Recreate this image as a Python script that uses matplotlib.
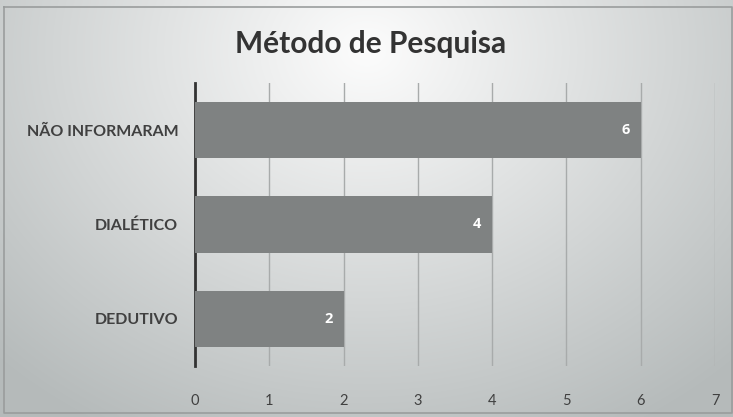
import matplotlib
matplotlib.use("Agg")
import matplotlib.pyplot as plt
import numpy as np

categories = ["DEDUTIVO", "DIALÉTICO", "NÃO INFORMARAM"]
values = [2, 4, 6]
xticks = [0, 1, 2, 3, 4, 5, 6, 7]
title = "Método de Pesquisa"

plt.rcParams['font.family'] = ['Lato', 'DejaVu Sans']

W, H = 733, 417
fig = plt.figure(figsize=(W/100, H/100), dpi=100)

# gradient background
bg = fig.add_axes([0, 0, 1, 1], zorder=-10)
yy, xx = np.mgrid[0:H, 0:W]
cx, cy = 0.5 * W, 0.12 * H
d = np.sqrt(((xx - cx) / (0.72 * W))**2 + ((yy - cy) / (1.05 * H))**2)
d = np.clip(d, 0, 1)
light = np.array([0.99, 0.99, 0.99])
dark = np.array([0.71, 0.73, 0.73])
img = light[None, None, :] * (1 - d[..., None]) + dark[None, None, :] * d[..., None]
bg.imshow(img, extent=[0, W, H, 0], aspect='auto')
bg.set_xlim(0, W); bg.set_ylim(H, 0)
bg.axis('off')
bg.plot([4, W-1, W-1, 4, 4], [7, 7, H-4, H-4, 7], color='#9a9d9d', lw=1.2)

ax = fig.add_axes([195/W, 1 - 366/H, (715-195)/W, (366-83)/H])
ax.patch.set_alpha(0)
y = np.arange(len(categories))
ax.barh(y, values, height=0.6, color='#7f8282', zorder=3)
for yi, v in zip(y, values):
    ax.text(v - 0.2, yi, str(v), ha='center', va='center', color='white',
            fontsize=10.5, fontweight='bold', family=['Open Sans', 'DejaVu Sans'],
            zorder=4)
ax.set_xlim(0, 7)
ax.set_ylim(-0.5, 2.5)
ax.set_xticks(xticks)
ax.set_xticklabels([str(t) for t in xticks])
ax.set_yticks(y)
ax.set_yticklabels(categories, fontsize=11.5, fontweight='bold', color='#404040')
ax.grid(axis='x', color='#a8abab', lw=1, zorder=0)
for s in ['top', 'right', 'bottom']:
    ax.spines[s].set_visible(False)
ax.spines['left'].set_color('#333333')
ax.spines['left'].set_linewidth(2)
ax.tick_params(axis='y', length=0, pad=12)
ax.tick_params(axis='x', length=0, pad=20, labelsize=10.5, labelcolor='#404040')

fig.text(371/W, 1 - 44/H, title, ha='center', va='center', fontsize=21.5,
         color='#333333', fontweight='bold')

fig.savefig("out.png", dpi=100)
